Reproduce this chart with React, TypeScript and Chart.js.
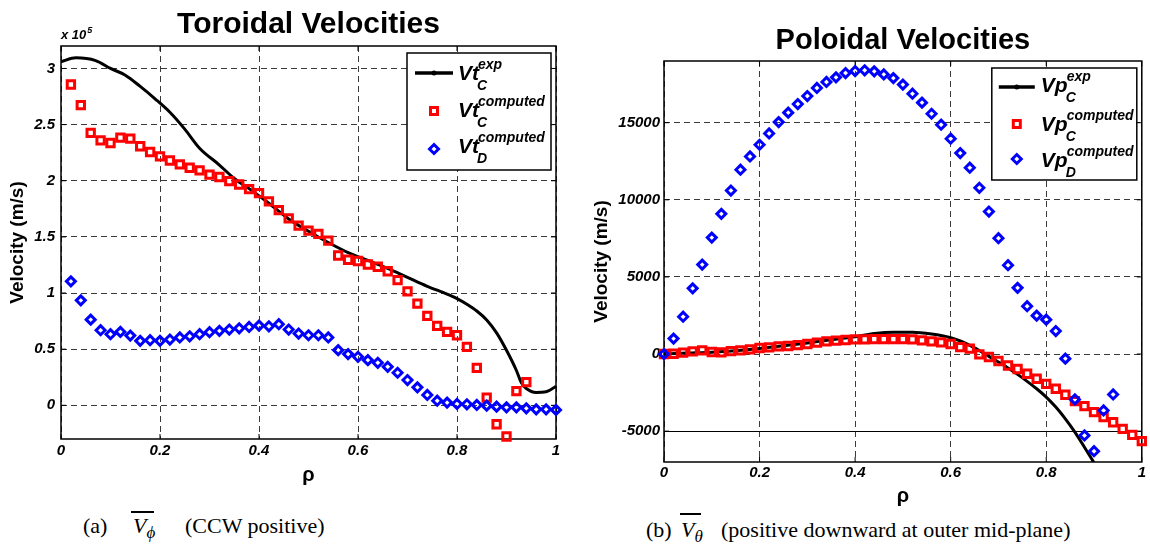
import React, { useEffect, useRef } from "react";
import { Chart, registerables } from "chart.js";

Chart.register(...registerables);

const SANS = '"Liberation Sans", Arial, Helvetica, sans-serif';
const SERIF = '"Liberation Serif", "Times New Roman", Times, serif';

// ---------------- Toroidal velocities (values in units of 10^5 m/s) ----------------
const rhoToroidalExp = [0, 0.03, 0.07, 0.1, 0.13, 0.16, 0.19, 0.22, 0.25, 0.28, 0.32, 0.35, 0.38, 0.42, 0.46, 0.5, 0.54, 0.58, 0.62, 0.66, 0.7, 0.74, 0.78, 0.8, 0.82, 0.84, 0.86, 0.88, 0.9, 0.92, 0.93, 0.94, 0.96, 0.98, 1.0];
const vtExpC = [3.06, 3.095, 3.07, 3.0, 2.94, 2.84, 2.73, 2.61, 2.46, 2.29, 2.14, 2.02, 1.93, 1.8, 1.66, 1.55, 1.45, 1.36, 1.29, 1.22, 1.14, 1.06, 0.99, 0.95, 0.9, 0.84, 0.76, 0.645, 0.49, 0.31, 0.2, 0.15, 0.115, 0.12, 0.17];

const rhoToroidalC = [0.02, 0.04, 0.06, 0.08, 0.1, 0.12, 0.14, 0.16, 0.18, 0.2, 0.22, 0.24, 0.26, 0.28, 0.3, 0.32, 0.34, 0.36, 0.38, 0.4, 0.42, 0.44, 0.46, 0.48, 0.5, 0.52, 0.54, 0.56, 0.58, 0.6, 0.62, 0.64, 0.66, 0.68, 0.7, 0.72, 0.74, 0.76, 0.78, 0.8, 0.82, 0.84, 0.86, 0.88, 0.9, 0.92, 0.94];
const vtComputedC = [2.857, 2.673, 2.426, 2.36, 2.336, 2.384, 2.375, 2.307, 2.256, 2.217, 2.18, 2.146, 2.116, 2.092, 2.054, 2.033, 1.997, 1.967, 1.926, 1.89, 1.816, 1.738, 1.665, 1.6, 1.556, 1.527, 1.467, 1.334, 1.296, 1.285, 1.254, 1.234, 1.194, 1.115, 1.015, 0.905, 0.796, 0.707, 0.654, 0.624, 0.52, 0.334, 0.068, -0.169, -0.278, 0.127, 0.207];

const rhoToroidalD = [0.02, 0.04, 0.06, 0.08, 0.1, 0.12, 0.14, 0.16, 0.18, 0.2, 0.22, 0.24, 0.26, 0.28, 0.3, 0.32, 0.34, 0.36, 0.38, 0.4, 0.42, 0.44, 0.46, 0.48, 0.5, 0.52, 0.54, 0.56, 0.58, 0.6, 0.62, 0.64, 0.66, 0.68, 0.7, 0.72, 0.74, 0.76, 0.78, 0.8, 0.82, 0.84, 0.86, 0.88, 0.9, 0.92, 0.94, 0.96, 0.98, 1.0];
const vtComputedD = [1.104, 0.935, 0.763, 0.669, 0.633, 0.654, 0.621, 0.574, 0.58, 0.574, 0.586, 0.604, 0.615, 0.633, 0.651, 0.663, 0.675, 0.686, 0.698, 0.71, 0.704, 0.722, 0.675, 0.639, 0.624, 0.624, 0.604, 0.491, 0.456, 0.432, 0.402, 0.379, 0.343, 0.29, 0.225, 0.16, 0.092, 0.041, 0.024, 0.012, 0.009, 0.003, -0.003, -0.012, -0.018, -0.018, -0.027, -0.036, -0.036, -0.041];

const toroidalYTicks = [0, 0.5, 1, 1.5, 2, 2.5, 3];
const toroidalYTickLabels = ["0", "0.5", "1", "1.5", "2", "2.5", "3"];

// ---------------- Poloidal velocities (m/s) ----------------
const rhoPoloidalExp = [0, 0.05, 0.1, 0.15, 0.2, 0.25, 0.3, 0.35, 0.4, 0.44, 0.48, 0.52, 0.56, 0.6, 0.62, 0.64, 0.66, 0.68, 0.7, 0.72, 0.74, 0.76, 0.78, 0.8, 0.82, 0.84, 0.86, 0.88, 0.9];
const vpExpC = [0, 60, 120, 220, 360, 530, 720, 930, 1120, 1330, 1420, 1420, 1300, 1060, 850, 560, 230, -150, -520, -900, -1320, -1770, -2250, -2790, -3440, -4200, -5060, -6040, -7050];

const rhoPoloidalC = [0, 0.02, 0.04, 0.06, 0.08, 0.1, 0.12, 0.14, 0.16, 0.18, 0.2, 0.22, 0.24, 0.26, 0.28, 0.3, 0.32, 0.34, 0.36, 0.38, 0.4, 0.42, 0.44, 0.46, 0.48, 0.5, 0.52, 0.54, 0.56, 0.58, 0.6, 0.62, 0.64, 0.66, 0.68, 0.7, 0.72, 0.74, 0.76, 0.78, 0.8, 0.82, 0.84, 0.86, 0.88, 0.9, 0.92, 0.94, 0.96, 0.98, 1.0];
const vpComputedC = [0, 20, 90, 170, 240, 130, 110, 190, 240, 300, 390, 430, 500, 520, 580, 650, 740, 820, 870, 910, 950, 950, 970, 970, 970, 970, 950, 890, 820, 760, 650, 450, 350, -20, -190, -450, -740, -970, -1280, -1600, -1930, -2250, -2640, -3050, -3380, -3770, -4090, -4420, -4850, -5240, -5650];

const rhoPoloidalD = [0, 0.02, 0.04, 0.06, 0.08, 0.1, 0.12, 0.14, 0.16, 0.18, 0.2, 0.22, 0.24, 0.26, 0.28, 0.3, 0.32, 0.34, 0.36, 0.38, 0.4, 0.42, 0.44, 0.46, 0.48, 0.5, 0.52, 0.54, 0.56, 0.58, 0.6, 0.62, 0.64, 0.66, 0.68, 0.7, 0.72, 0.74, 0.76, 0.78, 0.8, 0.82, 0.84, 0.86, 0.88, 0.9, 0.92, 0.94];
const vpComputedD = [0, 1000, 2420, 4260, 5800, 7550, 9090, 10600, 11950, 12810, 13570, 14300, 15040, 15650, 16210, 16730, 17250, 17640, 17940, 18220, 18350, 18400, 18330, 18130, 17890, 17470, 16880, 16300, 15580, 14870, 13960, 13030, 12080, 10780, 9240, 7510, 5760, 4290, 3100, 2490, 2230, 1490, -300, -2940, -5280, -6300, -3660, -2620];

const poloidalYTicks = [-5000, 0, 5000, 10000, 15000];
const poloidalYTickLabels = ["-5000", "0", "5000", "10000", "15000"];

// ---------------- shared ----------------
const rhoTicks = [0, 0.2, 0.4, 0.6, 0.8, 1];
const rhoTickLabels = ["0", "0.2", "0.4", "0.6", "0.8", "1"];

const toroidalLegendMain = ["Vt", "Vt", "Vt"];
const poloidalLegendMain = ["Vp", "Vp", "Vp"];
const legendSup = ["exp", "computed", "computed"];
const legendSub = ["C", "C", "D"];

const RED = "#ff0000";
const BLUE = "#0000ff";
const GRID = "#3a3a3a";

const pts = (xs: number[], ys: number[]) => xs.map((x, i) => ({ x, y: ys[i] }));

function drawDiamond(ctx: CanvasRenderingContext2D, x: number, y: number, r: number) {
  ctx.beginPath();
  ctx.moveTo(x - r, y);
  ctx.lineTo(x, y - r);
  ctx.lineTo(x + r, y);
  ctx.lineTo(x, y + r);
  ctx.closePath();
  ctx.stroke();
}

function panelPlugin(p: any) {
  return {
    id: "panel",
    beforeDatasetsDraw(chart: any) {
      const { ctx, chartArea: ca, scales } = chart;
      ctx.save();
      ctx.strokeStyle = "#000";
      ctx.lineWidth = 1.5;
      ctx.strokeRect(ca.left, ca.top, ca.right - ca.left, ca.bottom - ca.top);
      ctx.lineWidth = 1;
      ctx.beginPath();
      for (const t of scales.y.ticks) {
        const py = scales.y.getPixelForValue(t.value);
        ctx.moveTo(ca.left, py);
        ctx.lineTo(ca.left + 5, py);
        ctx.moveTo(ca.right, py);
        ctx.lineTo(ca.right - 5, py);
      }
      for (const t of scales.x.ticks) {
        const px = scales.x.getPixelForValue(t.value);
        ctx.moveTo(px, ca.bottom);
        ctx.lineTo(px, ca.bottom - 5);
        ctx.moveTo(px, ca.top);
        ctx.lineTo(px, ca.top + 5);
      }
      ctx.stroke();
      ctx.restore();
    },
    afterDraw(chart: any) {
      const { ctx, chartArea: ca } = chart;
      ctx.save();
      // title
      ctx.fillStyle = "#000";
      ctx.textAlign = "center";
      ctx.textBaseline = "alphabetic";
      ctx.font = `bold ${p.titleSize}px ${SANS}`;
      ctx.fillText(p.title, (ca.left + ca.right) / 2, p.titleBaseline);
      // exponent label
      if (p.exponent) {
        ctx.textAlign = "left";
        ctx.font = `italic bold 13px ${SANS}`;
        const base = p.exponent[0];
        const bx0 = ca.left;
        const by0 = ca.top - 7;
        ctx.fillText(base, bx0, by0);
        const w = ctx.measureText(base).width;
        ctx.font = `italic bold 9px ${SANS}`;
        ctx.fillText(p.exponent[1], bx0 + w + 1, by0 - 6);
      }
      // legend
      const L = p.legend;
      const bx = ca.right - 5 - L.width;
      const by = ca.top + 7;
      ctx.fillStyle = "#fff";
      ctx.fillRect(bx, by, L.width, L.height);
      ctx.strokeStyle = "#000";
      ctx.lineWidth = 1.5;
      ctx.strokeRect(bx, by, L.width, L.height);
      for (let i = 0; i < 3; i++) {
        const my = by + L.markerY[i];
        const mx = bx + L.markerX;
        if (i === 0) {
          ctx.strokeStyle = "#000";
          ctx.lineWidth = 3.5;
          ctx.beginPath();
          ctx.moveTo(bx + L.lineX0, my);
          ctx.lineTo(bx + L.lineX1, my);
          ctx.stroke();
          ctx.fillStyle = "#000";
          ctx.beginPath();
          ctx.arc(mx, my, 2.5, 0, Math.PI * 2);
          ctx.fill();
        } else if (i === 1) {
          ctx.strokeStyle = RED;
          ctx.lineWidth = 3;
          ctx.strokeRect(mx - 3.5, my - 3.5, 7, 7);
        } else {
          ctx.strokeStyle = BLUE;
          ctx.lineWidth = 3;
          drawDiamond(ctx, mx, my, 4.5);
        }
        const tx = bx + L.textX;
        const ty = by + L.baseline[i];
        ctx.fillStyle = "#000";
        ctx.textAlign = "left";
        ctx.font = `italic bold 21px ${SANS}`;
        ctx.fillText(p.legendMain[i], tx, ty);
        const w = ctx.measureText(p.legendMain[i]).width;
        ctx.font = `italic bold 14px ${SANS}`;
        ctx.fillText(legendSup[i], tx + w - 1, ty - 11);
        ctx.fillText(legendSub[i], tx + w - 2, ty + 10);
      }
      ctx.restore();
    },
  };
}

function buildChart(canvas: HTMLCanvasElement, p: any) {
  const tickFont = { family: SANS, size: 15, weight: "bold" as const, style: "italic" as const };
  return new Chart(canvas, {
    type: "scatter",
    data: {
      datasets: [
        {
          label: "D",
          data: pts(p.dX, p.dY),
          pointStyle: "rectRot",
          pointRadius: 4.5,
          pointHoverRadius: 4.5,
          pointBorderWidth: 3,
          borderColor: BLUE,
          backgroundColor: "rgba(0,0,0,0)",
          showLine: false,
          clip: false,
          order: 1,
        },
        {
          label: "C",
          data: pts(p.cX, p.cY),
          pointStyle: "rect",
          pointRadius: 5.2,
          pointHoverRadius: 5.2,
          pointBorderWidth: 3,
          borderColor: RED,
          backgroundColor: "rgba(0,0,0,0)",
          showLine: false,
          clip: false,
          order: 2,
        },
        {
          label: "exp",
          data: pts(p.eX, p.eY),
          showLine: true,
          borderColor: "#000",
          backgroundColor: "#000",
          borderWidth: 3,
          pointRadius: 0,
          cubicInterpolationMode: "monotone",
          order: 3,
        },
      ],
    } as any,
    options: {
      animation: false,
      responsive: false,
      maintainAspectRatio: false,
      events: [],
      layout: { padding: { left: 0, top: p.padTop, right: p.padRight, bottom: 0 } },
      plugins: { legend: { display: false }, tooltip: { enabled: false }, title: { display: false } },
      scales: {
        x: {
          type: "linear",
          min: 0,
          max: 1,
          afterBuildTicks: (s: any) => {
            s.ticks = rhoTicks.map((v) => ({ value: v }));
          },
          afterFit: (s: any) => {
            s.height = 50;
          },
          ticks: {
            padding: p.xTickPad,
            color: "#000",
            font: tickFont,
            maxRotation: 0,
            autoSkip: false,
            callback: (_v: any, i: number) => rhoTickLabels[i],
          },
          grid: { color: GRID, lineWidth: 1, drawTicks: false },
          border: { display: false, dash: [6, 4] },
          title: {
            display: true,
            text: "ρ",
            color: "#000",
            font: { family: SANS, size: 20, weight: "bold" },
            padding: { top: 0, bottom: p.xTitlePad },
          },
        },
        y: {
          type: "linear",
          min: p.yMin,
          max: p.yMax,
          afterBuildTicks: (s: any) => {
            s.ticks = p.yTicks.map((v: number) => ({ value: v }));
          },
          afterFit: (s: any) => {
            s.width = p.yAxisWidth;
          },
          ticks: {
            padding: p.yTickPad,
            color: "#000",
            font: tickFont,
            autoSkip: false,
            callback: (_v: any, i: number) => p.yTickLabels[i],
          },
          grid: {
            color: (c: any) => (c.tick && c.tick.value === p.solidValue ? "#000" : GRID),
            lineWidth: 1,
            drawTicks: false,
          },
          border: {
            display: false,
            dash: (c: any) => (c.tick && c.tick.value === p.solidValue ? [] : [6, 4]),
          },
          title: {
            display: true,
            text: "Velocity (m/s)",
            color: "#000",
            font: { family: SANS, size: 19, weight: "bold" },
            padding: { top: p.yTitlePad, bottom: 0 },
          },
        },
      },
    } as any,
    plugins: [panelPlugin(p)],
  });
}

export default function App() {
  const leftRef = useRef<HTMLCanvasElement>(null);
  const rightRef = useRef<HTMLCanvasElement>(null);

  useEffect(() => {
    const left = buildChart(leftRef.current!, {
      eX: rhoToroidalExp, eY: vtExpC,
      cX: rhoToroidalC, cY: vtComputedC,
      dX: rhoToroidalD, dY: vtComputedD,
      yMin: -0.3, yMax: 3.2,
      yTicks: toroidalYTicks, yTickLabels: toroidalYTickLabels,
      solidValue: null,
      padTop: 46, padRight: 19,
      yAxisWidth: 61, yTitlePad: 6.6, yTickPad: 6,
      xTickPad: 3, xTitlePad: 2,
      title: "Toroidal Velocities", titleSize: 30, titleBaseline: 33,
      exponent: ["x 10", "5"],
      legendMain: toroidalLegendMain,
      legend: {
        width: 144, height: 117,
        markerX: 27, markerY: [20, 58, 96],
        lineX0: 8, lineX1: 46,
        textX: 51, baseline: [27, 64, 100],
      },
    });
    const right = buildChart(rightRef.current!, {
      eX: rhoPoloidalExp, eY: vpExpC,
      cX: rhoPoloidalC, cY: vpComputedC,
      dX: rhoPoloidalD, dY: vpComputedD,
      yMin: -7000, yMax: 19000,
      yTicks: poloidalYTicks, yTickLabels: poloidalYTickLabels,
      solidValue: -5000,
      padTop: 61, padRight: 6,
      yAxisWidth: 89, yTitlePad: 15.6, yTickPad: 4,
      xTickPad: 2, xTitlePad: 3.5,
      title: "Poloidal Velocities", titleSize: 29, titleBaseline: 49,
      exponent: null,
      legendMain: poloidalLegendMain,
      legend: {
        width: 145, height: 112,
        markerX: 25, markerY: [19, 56, 91],
        lineX0: 7, lineX1: 43,
        textX: 49, baseline: [24, 63, 99],
      },
    });
    return () => {
      left.destroy();
      right.destroy();
    };
  }, []);

  const cap = (left: number, top: number): React.CSSProperties => ({
    position: "absolute",
    left,
    top,
    fontFamily: SERIF,
    fontSize: 22,
    lineHeight: "22px",
    whiteSpace: "nowrap",
    color: "#000",
  });

  return (
    <div style={{ position: "absolute", left: 0, top: 0, width: 1150, height: 545, background: "#fff", overflow: "hidden" }}>
      <canvas ref={leftRef} width={575} height={489} style={{ position: "absolute", left: 0, top: 0, display: "block" }} />
      <canvas ref={rightRef} width={575} height={512} style={{ position: "absolute", left: 575, top: 0, display: "block" }} />

      <span style={cap(83, 515)}>(a)</span>
      <span style={cap(133, 515)}>
        <i>V</i>
        <i style={{ fontSize: 17, position: "relative", top: 5, color: "#000" }}>ϕ</i>
      </span>
      <div style={{ position: "absolute", left: 131, top: 511, width: 23, height: 1.5, background: "#000" }} />
      <span style={cap(185, 515)}>(CCW positive)</span>

      <span style={cap(646, 519)}>(b)</span>
      <span style={cap(681, 519)}>
        <i>V</i>
        <i style={{ fontSize: 17, position: "relative", top: 5, color: "#000" }}>θ</i>
      </span>
      <div style={{ position: "absolute", left: 680, top: 513, width: 21, height: 1.5, background: "#000" }} />
      <span style={cap(721, 519)}>(positive downward at outer mid-plane)</span>
    </div>
  );
}
